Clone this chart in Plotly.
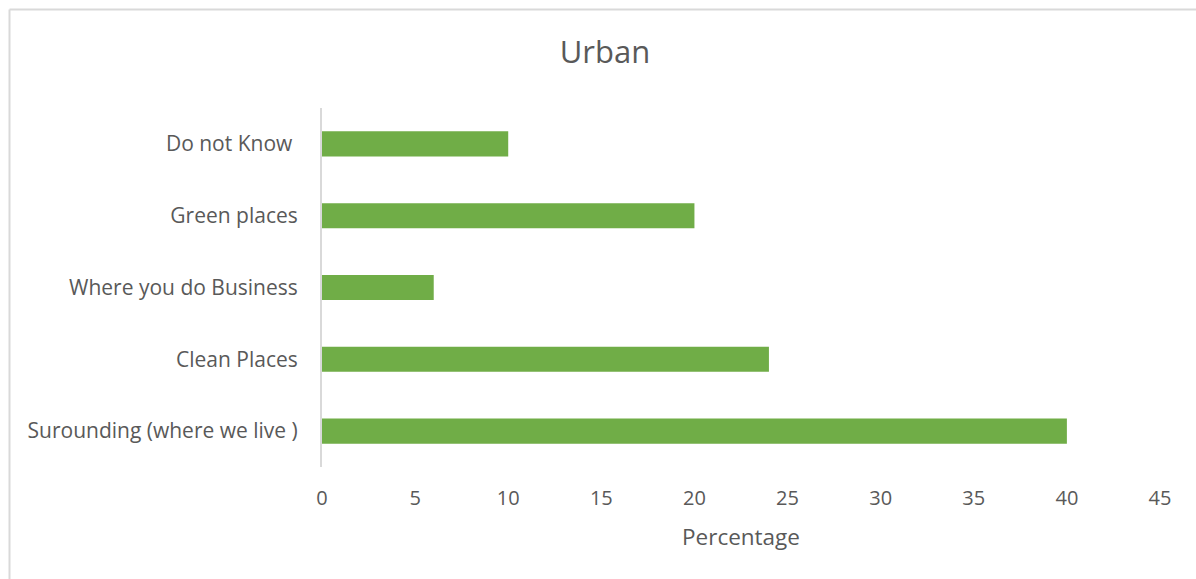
import plotly.graph_objects as go

### chart data ###
categories = ["Surounding (where we live )", "Clean Places", "Where you do Business",
              "Green places", "Do not Know\u00a0"]
percentages = [40, 24, 6, 20, 10]
x_ticks = [0, 5, 10, 15, 20, 25, 30, 35, 40, 45]

text_color = "#595959"
bar_color = "#70AD47"
line_color = "#D9D9D9"

W, H = 1196, 579

fig = go.Figure(go.Bar(
    x=percentages,
    y=categories,
    orientation="h",
    marker=dict(color=bar_color, line=dict(width=0)),
    width=0.35,
))

# plot area in pixels
plot_l, plot_r, plot_t, plot_b = 322, 1160, 108, 467
pw, ph = plot_r - plot_l, plot_b - plot_t

# chart border: only its left and top edges fall inside the picture
bx0 = (9.5 - plot_l) / pw
bx1 = (W - plot_l) / pw
by1 = (plot_b - 9.5) / ph
by0 = (plot_b - H) / ph
border = dict(color=line_color, width=2)

fig.update_layout(
    width=W, height=H,
    margin=dict(l=plot_l, r=W - plot_r, t=plot_t, b=H - plot_b, pad=0),
    paper_bgcolor="white",
    plot_bgcolor="white",
    font=dict(family="Open Sans", size=20, color=text_color),
    title=dict(text="Urban", x=605 / W, xanchor="center", y=1 - 52 / H, yanchor="middle",
               font=dict(size=31, color=text_color)),
    showlegend=False,
    xaxis=dict(
        range=[0, 45], tickvals=x_ticks, showgrid=False, zeroline=False, showline=False,
        ticks="", ticklabelstandoff=17, tickfont=dict(size=20),
        title=dict(text="Percentage", standoff=19, font=dict(size=22.5)),
        fixedrange=True,
    ),
    yaxis=dict(
        showgrid=False, zeroline=False, showline=True, linecolor=line_color, linewidth=2,
        ticks="", ticklabelstandoff=18, tickfont=dict(size=21),
        fixedrange=True,
    ),
    shapes=[
        dict(type="line", xref="paper", yref="paper", x0=bx0, x1=bx1, y0=by1, y1=by1,
             line=border, layer="below"),
        dict(type="line", xref="paper", yref="paper", x0=bx0, x1=bx0, y0=by0, y1=by1,
             line=border, layer="below"),
    ],
)

# drop the default page margin so the figure fills the window
fig.write_html("out.html",
               config={"displayModeBar": False},
               post_script="document.body.style.margin='0';document.body.style.overflow='hidden';")
